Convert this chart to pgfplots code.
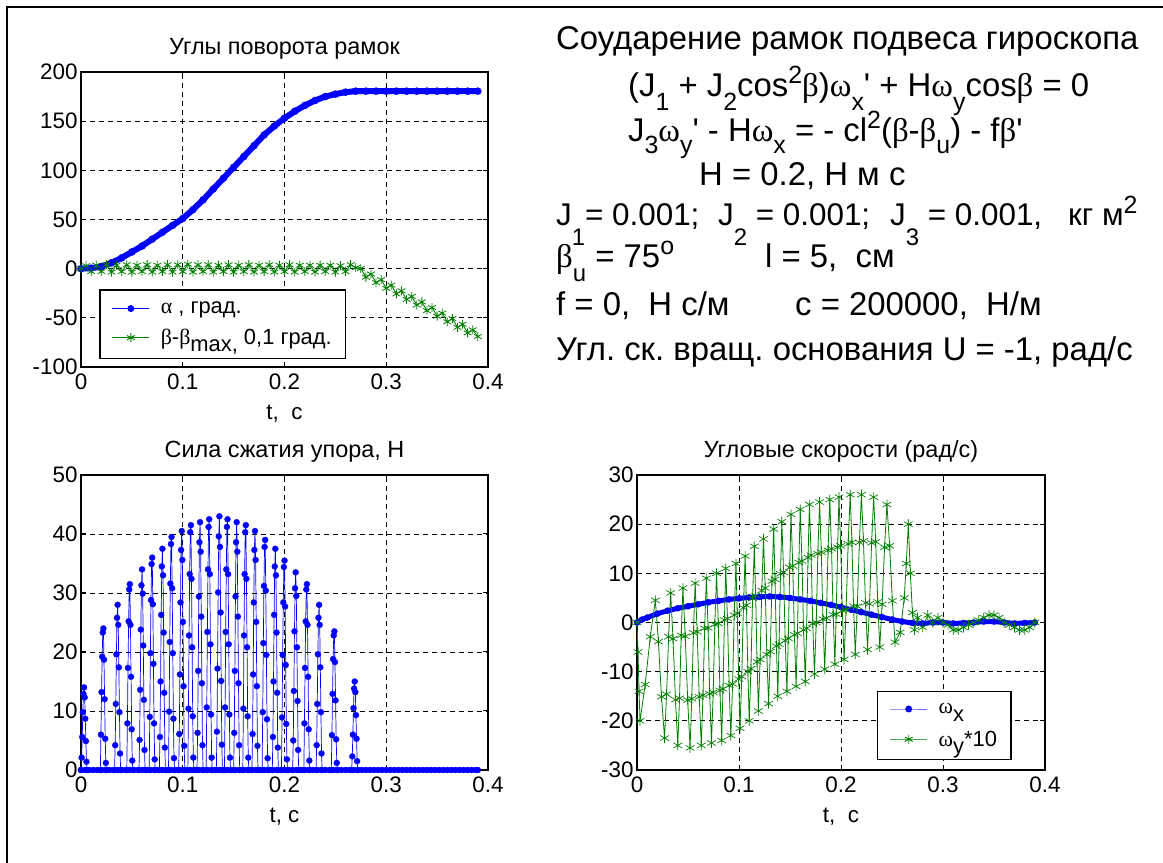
\documentclass[border=0pt]{standalone}
\usepackage{fontspec}
\setmainfont{Liberation Sans}[Ligatures=TeXOff]
\newfontfamily\grk{Liberation Serif}
\usepackage{pgfplots}
\pgfplotsset{compat=1.18}
\definecolor{mblue}{rgb}{0,0,1}
\definecolor{mgreen}{rgb}{0,0.5,0}
\newcommand\g[1]{{\grk #1}}
\newcommand\tb{\fontsize{33}{38}\selectfont\frenchspacing}
\newcommand\tj{\fontsize{31.5}{38}\selectfont\frenchspacing}
\newcommand\sbl[1]{\raisebox{-0.42em}{\fontsize{25}{25}\selectfont #1}}
\newcommand\sbt[1]{\raisebox{-0.36em}{\fontsize{25}{25}\selectfont #1}}
\newcommand\sbll[1]{\raisebox{-0.62em}{\fontsize{24}{24}\selectfont #1}}
\newcommand\sbu[1]{\raisebox{-0.42em}{\fontsize{24}{24}\selectfont #1}}
\newcommand\spr[1]{\raisebox{0.4em}{\fontsize{25}{25}\selectfont #1}}
\pgfplotsset{
  mat/.style={
    scale only axis, anchor=south west,
    xmin=0, xmax=0.4, xtick={0,0.1,0.2,0.3,0.4},
    grid=major,
    major grid style={black, line width=0.7bp, dash pattern=on 5bp off 4bp},
    axis line style={black, line width=1.3bp},
    tick align=inside, major tick length=5bp,
    tick style={black, line width=1bp},
    ticklabel style={font=\fontsize{22.5}{23}\selectfont},
    xticklabel style={yshift=-3bp},
    /pgf/number format/assume math mode=true,
    title style={font=\fontsize{23.5}{24}\selectfont, yshift=3bp},
    xlabel style={font=\fontsize{22.5}{23}\selectfont, yshift=-9bp},
    legend style={font=\fontsize{22}{24}\selectfont, draw=black, line width=1.2bp,
      cells={anchor=west}, inner xsep=12bp, inner ysep=10bp, column sep=9bp, row sep=10bp},
    legend image code/.code={\draw[mark repeat=2,mark phase=2] plot coordinates {(0bp,0bp) (18.5bp,0bp) (37bp,0bp)};},
  }
}
\begin{document}
\begin{tikzpicture}

% angles
\begin{axis}[mat, at={(81bp,496bp)}, width=407bp, height=295bp,
  ymin=-100, ymax=200, ytick={-100,-50,0,50,100,150,200},
  title={Углы поворота рамок}, xlabel={t,\ \ c},
  legend style={at={(0.045,0.028)}, anchor=south west}]
\addplot[mblue, line width=6bp, mark=*, mark size=3.5bp, mark options={line width=0.5bp}, forget plot] coordinates {
(0,0) (0.01,0.5) (0.02,2) (0.03,6) (0.04,11) (0.05,17) (0.06,23) (0.07,30) (0.08,37) (0.09,44)
(0.1,51) (0.11,60) (0.12,70) (0.13,81) (0.14,92) (0.15,103) (0.16,114) (0.17,125) (0.18,136) (0.19,145)
(0.2,153) (0.21,160) (0.22,166) (0.23,171) (0.24,175) (0.25,177.5) (0.26,179.5) (0.27,180.5) (0.28,180.5)
(0.29,180.5) (0.3,180.5) (0.31,180.5) (0.32,180.5) (0.33,180.5) (0.34,180.5) (0.35,180.5) (0.36,180.5)
(0.37,180.5) (0.38,180.5) (0.39,180.5)
};
\addplot[mgreen, line width=0.9bp, mark=asterisk, mark size=4.5bp, mark options={line width=0.8bp}, forget plot] coordinates {
(0,0) (0.005,3) (0.01,-3) (0.015,3.5) (0.02,-3) (0.025,4) (0.03,-3.5) (0.035,3.5) (0.04,-3) (0.045,4)
(0.05,-3.5) (0.055,3.5) (0.06,-3) (0.065,4) (0.07,-3.5) (0.075,3.5) (0.08,-3) (0.085,4) (0.09,-3.5) (0.095,4)
(0.1,-3) (0.105,4.5) (0.11,-3.5) (0.115,4) (0.12,-3) (0.125,4) (0.13,-3.5) (0.135,3.5) (0.14,-3) (0.145,4)
(0.15,-3.5) (0.155,3.5) (0.16,-3) (0.165,4) (0.17,-3.5) (0.175,3.5) (0.18,-3) (0.185,4) (0.19,-3.5) (0.195,3.5)
(0.2,-3) (0.205,4) (0.21,-3.5) (0.215,3.5) (0.22,-3) (0.225,3.5) (0.23,-3.5) (0.235,3.5) (0.24,-3) (0.245,3.5)
(0.25,-3.5) (0.255,3) (0.26,-3) (0.265,4) (0.27,1)
(0.275,0.2) (0.28,-8.7) (0.285,-5.5) (0.29,-14.3) (0.295,-11.2) (0.3,-20) (0.305,-16.8) (0.31,-25.7)
(0.315,-22.5) (0.32,-31.3) (0.325,-28.2) (0.33,-37) (0.335,-33.8) (0.34,-42.7) (0.345,-39.5) (0.35,-48.3)
(0.355,-45.2) (0.36,-54) (0.365,-50.8) (0.37,-59.7) (0.375,-56.5) (0.38,-65.3) (0.385,-62.2) (0.39,-69)
};
\addlegendimage{mblue, line width=0.9bp, mark=*, mark size=3bp}
\addlegendentry{\g{α} , град.}
\addlegendimage{mgreen, line width=0.9bp, mark=asterisk, mark size=4.5bp}
\addlegendentry{\g{β}-\g{β}\raisebox{-0.3em}{max,} 0,1 град.}
\end{axis}

% force
\begin{axis}[mat, at={(81bp,93bp)}, width=407bp, height=295bp,
  ymin=0, ymax=50, ytick={0,10,20,30,40,50},
  title={Сила сжатия упора, Н}, xlabel={t, c}]
\addplot[mblue, line width=0.7bp, mark=*, mark size=3bp, mark options={line width=0.3bp}] coordinates {
(0,0) (0.0006,2.1) (0.0012,5.6) (0.0018,9.8) (0.0024,12.9) (0.003,14) (0.0036,12.3) (0.0042,8.7) (0.0048,4.9) (0.0054,1.4) (0.006,0)
(0.019,0) (0.0196,6) (0.0202,13.2) (0.0208,19.2) (0.0214,23.3) (0.022,24) (0.0226,18.7) (0.0232,12) (0.0238,5.3) (0.0244,1.2) (0.025,0)
(0.033,0) (0.0336,4.2) (0.0342,11.2) (0.0348,19.6) (0.0354,25.8) (0.036,28) (0.0366,24.6) (0.0372,17.4) (0.0378,9.8) (0.0384,2.8) (0.039,0)
(0.045,0) (0.0456,7.9) (0.0462,17.3) (0.0468,25.2) (0.0474,30.6) (0.048,31.5) (0.0486,24.6) (0.0492,15.8) (0.0498,6.9) (0.0504,1.6) (0.051,0)
(0.057,0) (0.0576,5.1) (0.0582,13.6) (0.0588,23.8) (0.0594,31.3) (0.06,34) (0.0606,29.9) (0.0612,21.1) (0.0618,11.9) (0.0624,3.4) (0.063,0)
(0.067,0) (0.0676,9) (0.0682,19.8) (0.0688,28.8) (0.0694,34.9) (0.07,36) (0.0706,28.1) (0.0712,18) (0.0718,7.9) (0.0724,1.8) (0.073,0)
(0.077,0) (0.0776,5.6) (0.0782,15) (0.0788,26.3) (0.0794,34.5) (0.08,37.5) (0.0806,33) (0.0812,23.3) (0.0818,13.1) (0.0824,3.8) (0.083,0)
(0.086,0) (0.0866,9.9) (0.0872,21.7) (0.0878,31.6) (0.0884,38.3) (0.089,39.5) (0.0896,30.8) (0.0902,19.8) (0.0908,8.7) (0.0914,2) (0.092,0)
(0.096,0) (0.0966,6.1) (0.0972,16.2) (0.0978,28.4) (0.0984,37.3) (0.099,40.5) (0.0996,35.6) (0.1002,25.1) (0.1008,14.2) (0.1014,4.1) (0.102,0)
(0.105,0) (0.1056,10.4) (0.1062,22.8) (0.1068,33.2) (0.1074,40.3) (0.108,41.5) (0.1086,32.4) (0.1092,20.8) (0.1098,9.1) (0.1104,2.1) (0.111,0)
(0.114,0) (0.1146,6.3) (0.1152,16.8) (0.1158,29.4) (0.1164,38.6) (0.117,42) (0.1176,37) (0.1182,26) (0.1188,14.7) (0.1194,4.2) (0.12,0)
(0.123,0) (0.1236,10.6) (0.1242,23.4) (0.1248,34) (0.1254,41.2) (0.126,42.5) (0.1266,33.2) (0.1272,21.3) (0.1278,9.4) (0.1284,2.1) (0.129,0)
(0.133,0) (0.1336,6.5) (0.1342,17.2) (0.1348,30.1) (0.1354,39.6) (0.136,43) (0.1366,37.8) (0.1372,26.7) (0.1378,15.1) (0.1384,4.3) (0.139,0)
(0.141,0) (0.1416,10.6) (0.1422,23.4) (0.1428,34) (0.1434,41.2) (0.144,42.5) (0.1446,33.2) (0.1452,21.3) (0.1458,9.4) (0.1464,2.1) (0.147,0)
(0.15,0) (0.1506,6.3) (0.1512,16.8) (0.1518,29.4) (0.1524,38.6) (0.153,42) (0.1536,37) (0.1542,26) (0.1548,14.7) (0.1554,4.2) (0.156,0)
(0.159,0) (0.1596,10.4) (0.1602,22.8) (0.1608,33.2) (0.1614,40.3) (0.162,41.5) (0.1626,32.4) (0.1632,20.8) (0.1638,9.1) (0.1644,2.1) (0.165,0)
(0.168,0) (0.1686,6.1) (0.1692,16.2) (0.1698,28.4) (0.1704,37.3) (0.171,40.5) (0.1716,35.6) (0.1722,25.1) (0.1728,14.2) (0.1734,4.1) (0.174,0)
(0.178,0) (0.1786,9.8) (0.1792,21.5) (0.1798,31.2) (0.1804,37.8) (0.181,39) (0.1816,30.4) (0.1822,19.5) (0.1828,8.6) (0.1834,2) (0.184,0)
(0.188,0) (0.1886,5.6) (0.1892,15) (0.1898,26.3) (0.1904,34.5) (0.191,37.5) (0.1916,33) (0.1922,23.3) (0.1928,13.1) (0.1934,3.8) (0.194,0)
(0.197,0) (0.1976,8.9) (0.1982,19.5) (0.1988,28.4) (0.1994,34.4) (0.2,35.5) (0.2006,27.7) (0.2012,17.8) (0.2018,7.8) (0.2024,1.8) (0.203,0)
(0.208,0) (0.2086,5) (0.2092,13.4) (0.2098,23.5) (0.2104,30.8) (0.211,33.5) (0.2116,29.5) (0.2122,20.8) (0.2128,11.7) (0.2134,3.4) (0.214,0)
(0.219,0) (0.2196,7.9) (0.2202,17.3) (0.2208,25.2) (0.2214,30.6) (0.222,31.5) (0.2226,24.6) (0.2232,15.8) (0.2238,6.9) (0.2244,1.6) (0.225,0)
(0.231,0) (0.2316,4.2) (0.2322,11.2) (0.2328,19.6) (0.2334,25.8) (0.234,28) (0.2346,24.6) (0.2352,17.4) (0.2358,9.8) (0.2364,2.8) (0.237,0)
(0.246,0) (0.2466,5.9) (0.2472,12.9) (0.2478,18.8) (0.2484,22.8) (0.249,23.5) (0.2496,18.3) (0.2502,11.8) (0.2508,5.2) (0.2514,1.2) (0.252,0)
(0.266,0) (0.2666,2.3) (0.2672,6) (0.2678,10.5) (0.2684,13.8) (0.269,15) (0.2696,13.2) (0.2702,9.3) (0.2708,5.3) (0.2714,1.5) (0.272,0)
(0.39,0)
};
\addplot[mblue, only marks, mark=*, mark size=3bp] coordinates {
(0,0) (0.004,0) (0.008,0) (0.012,0) (0.016,0) (0.02,0) (0.024,0) (0.028,0) (0.032,0) (0.036,0)
(0.04,0) (0.044,0) (0.048,0) (0.052,0) (0.056,0) (0.06,0) (0.064,0) (0.068,0) (0.072,0) (0.076,0)
(0.08,0) (0.084,0) (0.088,0) (0.092,0) (0.096,0) (0.1,0) (0.104,0) (0.108,0) (0.112,0) (0.116,0)
(0.12,0) (0.124,0) (0.128,0) (0.132,0) (0.136,0) (0.14,0) (0.144,0) (0.148,0) (0.152,0) (0.156,0)
(0.16,0) (0.164,0) (0.168,0) (0.172,0) (0.176,0) (0.18,0) (0.184,0) (0.188,0) (0.192,0) (0.196,0)
(0.2,0) (0.204,0) (0.208,0) (0.212,0) (0.216,0) (0.22,0) (0.224,0) (0.228,0) (0.232,0) (0.236,0)
(0.24,0) (0.244,0) (0.248,0) (0.252,0) (0.256,0) (0.26,0) (0.264,0) (0.268,0) (0.272,0) (0.276,0)
(0.28,0) (0.284,0) (0.288,0) (0.292,0) (0.296,0) (0.3,0) (0.304,0) (0.308,0) (0.312,0) (0.316,0)
(0.32,0) (0.324,0) (0.328,0) (0.332,0) (0.336,0) (0.34,0) (0.344,0) (0.348,0) (0.352,0) (0.356,0)
(0.36,0) (0.364,0) (0.368,0) (0.372,0) (0.376,0) (0.38,0) (0.384,0) (0.388,0)
};
\end{axis}

% angular rates
\begin{axis}[mat, at={(637bp,93bp)}, width=408bp, height=295bp,
  ymin=-30, ymax=30, ytick={-30,-20,-10,0,10,20,30},
  title={Угловые скорости (рад/с)}, xlabel={t,\ \ c},
  legend style={at={(0.918,0.033)}, anchor=south east, row sep=12bp}]
\addplot[mblue, line width=5bp, mark=*, mark size=3bp, mark options={line width=0.5bp}, forget plot] coordinates {
(0,0) (0.005,0.6) (0.01,1) (0.02,1.8) (0.03,2.4) (0.04,2.9) (0.05,3.3) (0.06,3.7) (0.07,4.1) (0.08,4.4)
(0.09,4.7) (0.1,4.9) (0.11,5.1) (0.12,5.2) (0.13,5.3) (0.14,5.2) (0.15,5) (0.16,4.7) (0.17,4.4) (0.18,4)
(0.19,3.6) (0.2,3.1) (0.21,2.6) (0.22,2.1) (0.23,1.6) (0.24,1.1) (0.25,0.6) (0.26,0.2) (0.27,-0.1) (0.28,-0.2)
(0.29,0) (0.3,0) (0.31,-0.2) (0.32,-0.1) (0.33,0) (0.34,0.2) (0.35,0.2) (0.36,0) (0.37,-0.2) (0.38,-0.1) (0.39,0)
};
\addplot[mgreen, line width=0.8bp, mark=asterisk, mark size=5bp, mark options={line width=0.7bp}, forget plot] coordinates {
(0,0) (0.001,-6) (0.002,-14) (0.003,-20) (0.008,-12.6) (0.013,-2.9) (0.018,4.5)
(0.021,-3.9) (0.024,-15.1) (0.027,-23.5) (0.029,-14.6) (0.031,-2.9) (0.033,6)
(0.0353,-3.3) (0.0377,-15.7) (0.04,-25) (0.0417,-15.4) (0.0433,-2.6) (0.045,7)
(0.0473,-2.8) (0.0497,-15.8) (0.052,-25.5) (0.0537,-15.5) (0.0553,-2.1) (0.057,8)
(0.059,-1.9) (0.061,-15.1) (0.063,-25) (0.0647,-14.8) (0.0663,-1.2) (0.068,9)
(0.0697,-1.1) (0.0713,-14.5) (0.073,-24.5) (0.0747,-14.2) (0.0763,-0.4) (0.078,10)
(0.0797,-0.2) (0.0813,-13.8) (0.083,-24) (0.0843,-13.5) (0.0857,0.5) (0.087,11)
(0.0887,0.8) (0.0903,-12.8) (0.092,-23) (0.0937,-12.5) (0.0953,1.5) (0.097,12)
(0.0983,1.9) (0.0997,-11.5) (0.101,-21.5) (0.1027,-11) (0.1043,3) (0.106,13.5)
(0.1073,3.5) (0.1087,-10) (0.11,-20) (0.1117,-9.4) (0.1133,4.9) (0.115,15.5)
(0.1163,5.5) (0.1177,-8) (0.119,-18) (0.1207,-7.5) (0.1223,6.5) (0.124,17)
(0.1257,7) (0.1273,-6.5) (0.129,-16.5) (0.1307,-5.9) (0.1323,8.4) (0.134,19)
(0.1353,8.8) (0.1367,-4.8) (0.138,-15) (0.1393,-4.4) (0.1407,9.9) (0.142,20.5)
(0.1437,10.2) (0.1453,-3.7) (0.147,-14) (0.1483,-3.2) (0.1497,11.2) (0.151,22)
(0.1527,11.5) (0.1543,-2.5) (0.156,-13) (0.1573,-2.2) (0.1587,12.2) (0.16,23)
(0.1617,12.5) (0.1633,-1.5) (0.165,-12) (0.1663,-1.2) (0.1677,13.2) (0.169,24)
(0.1707,13.7) (0.1723,-0.2) (0.174,-10.5) (0.1757,0) (0.1773,14) (0.179,24.5)
(0.1807,14.3) (0.1823,0.7) (0.184,-9.5) (0.1857,0.9) (0.1873,14.7) (0.189,25)
(0.1907,15) (0.1923,1.6) (0.194,-8.5) (0.1953,1.7) (0.1967,15.3) (0.198,25.5)
(0.1997,15.6) (0.2013,2.4) (0.203,-7.5) (0.205,2.6) (0.207,16) (0.209,26)
(0.2107,16.3) (0.2123,3.3) (0.214,-6.5) (0.216,3.3) (0.218,16.3) (0.22,26)
(0.222,16.6) (0.224,4) (0.226,-5.5) (0.228,3.8) (0.23,16.2) (0.232,25.5)
(0.234,16.4) (0.236,4.2) (0.238,-5) (0.2403,3.7) (0.2427,15.3) (0.245,24)
(0.2477,15.6) (0.2503,4.4) (0.253,-4) (0.258,-2) (0.262,5) (0.264,12) (0.266,20)
(0.268,10) (0.27,2) (0.272,-1.5) (0.275,1) (0.28,-1) (0.285,1.5) (0.29,0) (0.295,1) (0.3,0)
(0.305,-0.5) (0.31,-1.5) (0.315,-1.5) (0.32,-1) (0.325,-0.5) (0.33,0) (0.335,0.5) (0.34,1)
(0.345,1.5) (0.35,1.5) (0.355,1) (0.36,0) (0.365,-0.5) (0.37,-1) (0.375,-1.5) (0.38,-1.5)
(0.385,-1) (0.39,0)
};
\addlegendimage{mblue!60, line width=0.9bp, mark=*, mark size=3bp, mark options={mblue}}
\addlegendentry{\g{ω}\raisebox{-0.35em}{x}}
\addlegendimage{mgreen!70, line width=0.9bp, mark=asterisk, mark size=4.5bp, mark options={mgreen}}
\addlegendentry{\g{ω}\raisebox{-0.35em}{y}*10}
\end{axis}

% text block
\node[anchor=base west, inner sep=0] at (556bp,813bp) {\tb Соударение рамок подвеса гироскопа};
\node[anchor=base west, inner sep=0] at (628bp,766bp) {\tb (J\sbl{1} + J\sbl{2}cos\spr{2}\g{β})\g{ω}\sbl{x}' + H\g{ω}\sbl{y}cos\g{β} = 0};
\node[anchor=base west, inner sep=0] at (628bp,721bp) {\tb J\sbt{3}\g{ω}\sbt{y}' - H\g{ω}\sbt{x} = - cl\spr{2}(\g{β}-\g{β}\sbt{u}) - f\g{β}'};
\node[anchor=base west, inner sep=0] at (699bp,677bp) {\tb H = 0.2, Н м с};
\node[anchor=base west, inner sep=0] at (556bp,637bp) {\tj J\sbll{1}= 0.001;};
\node[anchor=base west, inner sep=0] at (718bp,637bp) {\tj J\sbll{2} = 0.001;};
\node[anchor=base west, inner sep=0] at (890bp,637bp) {\tj J\sbll{3} = 0.001,};
\node[anchor=base west, inner sep=0] at (1068bp,637bp) {\tj кг м\spr{2}};
\node[anchor=base west, inner sep=0] at (556bp,595bp) {\tb \g{β}\sbu{u} = 75\spr{o}};
\node[anchor=base west, inner sep=0] at (765bp,595bp) {\tb l = 5,\ \ см};
\node[anchor=base west, inner sep=0] at (556bp,547bp) {\tb f = 0,\ \ Н с/м};
\node[anchor=base west, inner sep=0] at (795bp,547bp) {\tb c = 200000,\ \ Н/м};
\node[anchor=base west, inner sep=0] at (556bp,502bp) {\tb Угл. ск. вращ. основания U = -1, рад/с};

\draw[line width=2.5bp] (7bp,0bp) -- (7bp,856bp) -- (1163bp,856bp);
\pgfresetboundingbox
\path[use as bounding box] (0bp,0bp) rectangle (1163bp,863bp);
\end{tikzpicture}
\end{document}
